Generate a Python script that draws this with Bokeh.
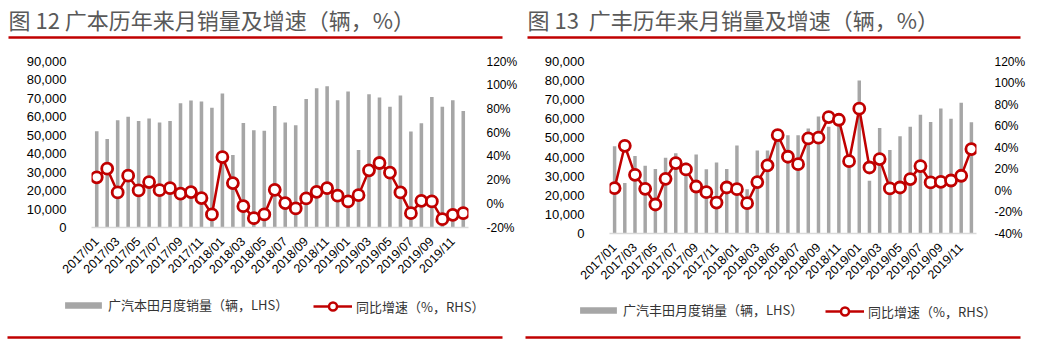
import math
from bokeh.plotting import figure
from bokeh.models import (Range1d, LinearAxis, Legend, LegendItem,
                          NumeralTickFormatter, PrintfTickFormatter, FixedTicker)
from bokeh.layouts import row, column
from bokeh.embed import file_html
from bokeh.resources import INLINE
from bokeh.core.properties import value

# ---------------- data ----------------
months = ["2017/01", "2017/02", "2017/03", "2017/04", "2017/05", "2017/06",
          "2017/07", "2017/08", "2017/09", "2017/10", "2017/11", "2017/12",
          "2018/01", "2018/02", "2018/03", "2018/04", "2018/05", "2018/06",
          "2018/07", "2018/08", "2018/09", "2018/10", "2018/11", "2018/12",
          "2019/01", "2019/02", "2019/03", "2019/04", "2019/05", "2019/06",
          "2019/07", "2019/08", "2019/09", "2019/10", "2019/11", "2019/12"]
x_tick_labels = ["2017/01", "2017/03", "2017/05", "2017/07", "2017/09", "2017/11",
                 "2018/01", "2018/03", "2018/05", "2018/07", "2018/09", "2018/11",
                 "2019/01", "2019/03", "2019/05", "2019/07", "2019/09", "2019/11"]

honda_sales = [52200, 48000, 58200, 60100, 57800, 59100, 56900, 57800, 67400, 68800,
               68300, 64900, 72600, 39300, 56700, 52700, 52400, 65900, 56900, 55400,
               69700, 75500, 76600, 69000, 73700, 42000, 72300, 70500, 65400, 71600,
               52000, 56500, 70800, 65400, 69000, 63200]
honda_growth = [22.3, 29.6, 9.6, 23.7, 11.3, 18.3, 11.5, 13.2, 8.5, 9.9,
                4.8, -9.0, 39.4, 17.5, -2.0, -12.1, -9.0, 11.8, 0.6, -3.9,
                4.5, 10.1, 13.2, 6.8, 2.0, 7.3, 28.2, 34.4, 26.2, 9.6,
                -7.9, 2.5, 2.0, -13.0, -9.3, -7.9]

toyota_sales = [45600, 26400, 40600, 35500, 33700, 39700, 42000, 37200, 41300, 33600,
                37100, 33700, 46000, 23100, 43400, 43400, 50000, 51400, 51400, 54900,
                61200, 55800, 58500, 37000, 80100, 27600, 55200, 43700, 50900, 55800,
                62200, 58400, 65400, 60100, 68400, 58200]
toyota_growth = [2.2, 41.6, 14.6, 1.6, -13.0, 10.9, 25.5, 19.6, 3.7, -1.6,
                 -11.2, 2.8, 1.2, -11.8, 7.8, 23.3, 51.6, 31.4, 24.5, 48.4,
                 49.1, 68.3, 65.8, 27.3, 76.1, 21.4, 29.2, 1.9, 2.8, 10.6,
                 22.7, 7.5, 8.1, 9.3, 13.7, 38.5]

sales_ticks = [0, 10000, 20000, 30000, 40000, 50000, 60000, 70000, 80000, 90000]
honda_pct_ticks = [-20, 0, 20, 40, 60, 80, 100, 120]
toyota_pct_ticks = [-40, -20, 0, 20, 40, 60, 80, 100, 120]

titles = ["图 12 广本历年来月销量及增速（辆，%）", "图 13\u00a0 广丰历年来月销量及增速（辆，%）"]
bar_labels = ["广汽本田月度销量（辆，LHS）", "广汽丰田月度销量（辆，LHS）"]
line_label = "同比增速（%，RHS）"

# ---------------- style ----------------
RED = "#C00000"
BAR = "#A6A6A6"
TITLE_GRAY = "#595959"
CJK = "Noto Sans CJK SC"
NUM = "Liberation Sans"
PW = 521

idx = list(range(len(months)))
tick_idx = [i for i, m in enumerate(months) if m in x_tick_labels]


def header(title, x0, x1):
    h = figure(width=PW, height=44, x_range=Range1d(0, PW), y_range=Range1d(44, 0),
               x_axis_location=None, y_axis_location=None, min_border=0,
               frame_align=False,
               outline_line_color=None, toolbar_location=None, output_backend="svg")
    h.xgrid.visible = False
    h.ygrid.visible = False
    h.text(x=[x0], y=[18], text=[title], text_font=value(CJK), text_font_size="22px",
           text_color=TITLE_GRAY, text_baseline="middle", text_align="left")
    h.segment(x0=[x0], y0=[37], x1=[x1], y1=[37], line_color=RED, line_width=2.5)
    return h


def main(sales, growth, pct_ticks, bl, br, bt, bb):
    p = figure(width=PW, height=246, x_range=Range1d(-0.5, len(months) - 0.5),
               y_range=Range1d(0, 90000), title=None, frame_align=False,
               min_border_left=bl, min_border_right=br, min_border_top=bt,
               min_border_bottom=bb, outline_line_color=None,
               toolbar_location=None, output_backend="svg")
    p.extra_y_ranges = {"pct": Range1d(pct_ticks[0], pct_ticks[-1])}
    p.xgrid.visible = False
    p.ygrid.visible = False

    p.vbar(x=idx, top=sales, width=0.34, fill_color=BAR, line_color=None)
    p.line(x=idx, y=growth, y_range_name="pct", line_color=RED, line_width=2.5)
    p.scatter(x=idx, y=growth, y_range_name="pct", size=11, fill_color="white",
              line_color=RED, line_width=2.8)

    ya = p.yaxis[0]
    ya.ticker = FixedTicker(ticks=sales_ticks)
    ya.formatter = NumeralTickFormatter(format="0,0")
    ya.axis_line_color = None
    ya.major_tick_line_color = None
    ya.minor_tick_line_color = None
    ya.major_label_standoff = 19
    ya.major_label_text_font = NUM
    ya.major_label_text_font_size = "13px"
    ya.major_label_text_color = "#000000"

    ra = LinearAxis(y_range_name="pct", ticker=FixedTicker(ticks=pct_ticks),
                    formatter=PrintfTickFormatter(format="%d%%"))
    ra.axis_line_color = None
    ra.major_tick_line_color = None
    ra.minor_tick_line_color = None
    ra.major_label_standoff = 12
    ra.major_label_text_font = NUM
    ra.major_label_text_font_size = "12px"
    ra.major_label_text_color = "#000000"
    p.add_layout(ra, "right")

    xa = p.xaxis[0]
    xa.ticker = FixedTicker(ticks=tick_idx)
    xa.major_label_overrides = {i: months[i] for i in tick_idx}
    xa.axis_line_color = "#D9D9D9"
    xa.axis_line_width = 1.5
    xa.major_tick_line_color = None
    xa.minor_tick_line_color = None
    xa.major_label_orientation = math.pi / 4
    xa.major_label_standoff = 6
    xa.major_label_text_font = NUM
    xa.major_label_text_font_size = "12.5px"
    xa.major_label_text_color = "#000000"
    return p


def footer(bar_label, lx1, lx2, cy, x0, x1):
    f = figure(width=PW, height=64, x_range=Range1d(0, PW), y_range=Range1d(64, 0),
               x_axis_location=None, y_axis_location=None, min_border=0,
               frame_align=False,
               outline_line_color=None, toolbar_location=None, output_backend="svg")
    f.xgrid.visible = False
    f.ygrid.visible = False
    # legend proxies placed outside the visible range
    rb = f.vbar(x=[-100], top=[-100], width=1, fill_color=BAR, line_color=None)
    rl = f.line(x=[-100, -90], y=[-100, -100], line_color=RED, line_width=2.5)
    rs = f.scatter(x=[-100], y=[-100], fill_color="white", line_color=RED, line_width=2.5)
    common = dict(orientation="horizontal", padding=0, margin=0, border_line_color=None,
                  background_fill_alpha=0, label_text_font=CJK,
                  label_text_font_size="13px", label_text_color="#333333")
    up = 64 - cy
    leg1 = Legend(items=[LegendItem(label=bar_label, renderers=[rb])],
                  location=(lx1, up - 8), glyph_width=46, glyph_height=8,
                  label_height=16, label_standoff=2, **common)
    leg2 = Legend(items=[LegendItem(label=line_label, renderers=[rl, rs])],
                  location=(lx2, up - 10), glyph_width=39, glyph_height=20,
                  label_height=20, label_standoff=4, **common)
    f.add_layout(leg1)
    f.add_layout(leg2)
    f.segment(x0=[x0], y0=[47], x1=[x1], y1=[47], line_color=RED, line_width=2.5)
    return f


left = column(header(titles[0], 8, 502),
              main(honda_sales, honda_growth, honda_pct_ticks, 91, 53, 17, 63),
              footer(bar_labels[0], 60, 313, 16, 7, 502))
right = column(header(titles[1], 6, 499),
               main(toyota_sales, toyota_growth, toyota_pct_ticks, 88, 66, 17, 57),
               footer(bar_labels[1], 54, 304, 21, 4, 499))
layout = row(left, right)

open("out.html", "w").write(file_html(layout, INLINE))
